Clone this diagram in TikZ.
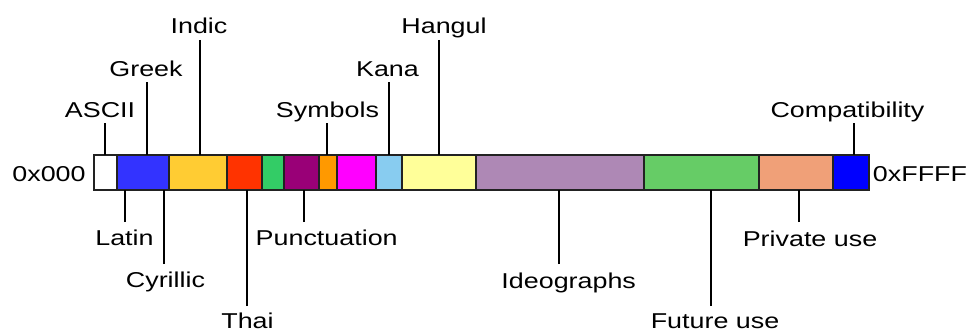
\documentclass[tikz,border=0pt]{standalone}
\usepackage{fontspec}
\setmainfont[FakeStretch=1.25]{Liberation Sans}
\definecolor{cWhite}{HTML}{FFFFFF}
\definecolor{cBlue}{HTML}{3333FF}
\definecolor{cYellow}{HTML}{FFCC33}
\definecolor{cRed}{HTML}{FF3300}
\definecolor{cGreen}{HTML}{33CC66}
\definecolor{cPurple}{HTML}{990077}
\definecolor{cOrange}{HTML}{FF9900}
\definecolor{cMagenta}{HTML}{FF00FF}
\definecolor{cLightBlue}{HTML}{88CCF0}
\definecolor{cLightYellow}{HTML}{FFFF99}
\definecolor{cLilac}{HTML}{AE88B5}
\definecolor{cGreenB}{HTML}{66CC66}
\definecolor{cSalmon}{HTML}{F0A078}
\definecolor{cBlueB}{HTML}{0000FF}
\definecolor{cEdge}{HTML}{222222}
\begin{document}
\begin{tikzpicture}[x=1pt,y=-1pt,
  seg/.style={draw=cEdge, line width=2pt, rectangle, inner sep=0pt, outer sep=0pt, minimum height=35pt},
  lbl/.style={anchor=base, inner sep=0pt, font=\fontsize{21.5}{24}\selectfont},
  tick/.style={draw=black, line width=2pt}]
\useasboundingbox (0,0) rectangle (968,329);
% bar segments
\node[seg, fill=cWhite, minimum width=23pt] (ascii) at (105.5,172.5) {};
\node[seg, fill=cBlue, minimum width=52pt] (latin) at (143,172.5) {};
\node[seg, fill=cYellow, minimum width=58pt] (indic) at (198,172.5) {};
\node[seg, fill=cRed, minimum width=35pt] (thai) at (244.5,172.5) {};
\node[seg, fill=cGreen, minimum width=22pt] (green) at (273,172.5) {};
\node[seg, fill=cPurple, minimum width=35pt] (punct) at (301.5,172.5) {};
\node[seg, fill=cOrange, minimum width=18pt] (symb) at (328,172.5) {};
\node[seg, fill=cMagenta, minimum width=39pt] (magenta) at (356.5,172.5) {};
\node[seg, fill=cLightBlue, minimum width=26pt] (kana) at (389,172.5) {};
\node[seg, fill=cLightYellow, minimum width=74pt] (hangul) at (439,172.5) {};
\node[seg, fill=cLilac, minimum width=168pt] (ideo) at (560,172.5) {};
\node[seg, fill=cGreenB, minimum width=115pt] (future) at (701.5,172.5) {};
\node[seg, fill=cSalmon, minimum width=74pt] (private) at (796,172.5) {};
\node[seg, fill=cBlueB, minimum width=36pt] (compat) at (851,172.5) {};
% end labels
\node[lbl] (lo) at (49,181.7) {0x000};
\node[lbl] (hi) at (920,181.7) {0xFFFF};
% top labels
\node[lbl] (lASCII) at (100,117) {ASCII};
\node[lbl] (lGreek) at (146,76) {Greek};
\node[lbl] (lIndic) at (199,34) {Indic};
\node[lbl] (lSymb) at (327.5,117) {Symbols};
\node[lbl] (lKana) at (387.5,76) {Kana};
\node[lbl] (lHangul) at (444,34) {Hangul};
\node[lbl] (lCompat) at (847.5,117) {Compatibility};
% bottom labels
\node[lbl] (lLatin) at (124.5,245) {Latin};
\node[lbl] (lCyr) at (165.5,287) {Cyrillic};
\node[lbl] (lThai) at (247.5,328) {Thai};
\node[lbl] (lPunct) at (326.7,245) {Punctuation};
\node[lbl] (lIdeo) at (568.7,288) {Ideographs};
\node[lbl] (lFuture) at (715,328) {Future use};
\node[lbl] (lPrivate) at (810,246) {Private use};
% tick ends
\coordinate (kASCII) at (105,123);
\coordinate (kGreek) at (147,82);
\coordinate (kIndic) at (200,40);
\coordinate (kSymb) at (327,123);
\coordinate (kKana) at (389,82);
\coordinate (kHangul) at (439,40);
\coordinate (kCompat) at (854,123);
\coordinate (kLatin) at (125,222);
\coordinate (kCyr) at (164,264);
\coordinate (kThai) at (247,306);
\coordinate (kPunct) at (304,222);
\coordinate (kIdeo) at (559,264);
\coordinate (kFuture) at (711,306);
\coordinate (kPrivate) at (799,222);
% ticks
\draw[tick] (kASCII) -- (kASCII |- ascii.north);
\draw[tick] (kGreek) -- (kGreek |- latin.north);
\draw[tick] (kIndic) -- (kIndic |- indic.north);
\draw[tick] (kSymb) -- (kSymb |- symb.north);
\draw[tick] (kKana) -- (kKana |- kana.north);
\draw[tick] (kHangul) -- (kHangul |- hangul.north);
\draw[tick] (kCompat) -- (kCompat |- compat.north);
\draw[tick] (kLatin) -- (kLatin |- latin.south);
\draw[tick] (kCyr) -- (kCyr |- latin.south);
\draw[tick] (kThai) -- (kThai |- thai.south);
\draw[tick] (kPunct) -- (kPunct |- punct.south);
\draw[tick] (kIdeo) -- (kIdeo |- ideo.south);
\draw[tick] (kFuture) -- (kFuture |- future.south);
\draw[tick] (kPrivate) -- (kPrivate |- private.south);
\end{tikzpicture}
\end{document}
